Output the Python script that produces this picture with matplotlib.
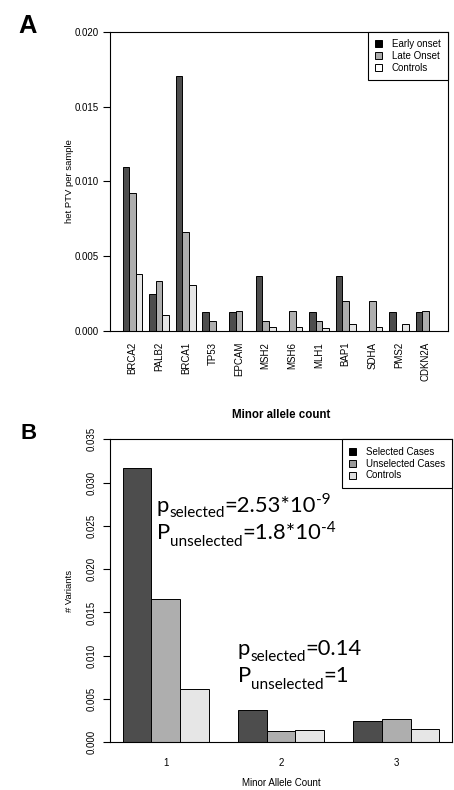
import matplotlib
matplotlib.use('Agg')
import matplotlib.pyplot as plt
import numpy as np
from matplotlib.patches import Patch

# ---------------- data ----------------
genes = ['BRCA2', 'PALB2', 'BRCA1', 'TP53', 'EPCAM', 'MSH2', 'MSH6', 'MLH1',
         'BAP1', 'SDHA', 'PMS2', 'CDKN2A']
early_onset = [0.01098, 0.00244, 0.01705, 0.00123, 0.00123, 0.00366, 0.0,
               0.00123, 0.00366, 0.0, 0.00123, 0.00123]
late_onset = [0.00924, 0.00331, 0.00663, 0.00067, 0.00132, 0.00067, 0.00132,
              0.00067, 0.00199, 0.00199, 0.0, 0.00132]
controls_a = [0.00378, 0.00103, 0.00304, 0.0, 0.0, 0.00027, 0.00027,
              0.00016, 0.00043, 0.00027, 0.00043, 0.0]
legend_a = ['Early onset', 'Late Onset', 'Controls']

mac_groups = ['1', '2', '3']
selected = [0.03165, 0.00370, 0.00246]
unselected = [0.01652, 0.00134, 0.00266]
controls_b = [0.00619, 0.00139, 0.00154]
legend_b = ['Selected Cases', 'Unselected Cases', 'Controls']

# ---------------- style ----------------
plt.rcParams['font.family'] = ['Liberation Sans', 'DejaVu Sans']
W, H = 454, 790
fig = plt.figure(figsize=(W / 100, H / 100), dpi=100)

bar_cols = ['#4D4D4D', '#AEAEAE', '#E6E6E6']


def ax_rect(l, t, r, b):
    return [l / W, 1 - b / H, (r - l) / W, (b - t) / H]


def grouped(ax, series):
    n = len(series[0])
    k = len(series)
    for j, s in enumerate(series):
        x = np.arange(n) * (k + 1) + 1.5 + j
        ax.bar(x, s, width=1.0, color=bar_cols[j], edgecolor='black',
               linewidth=0.7, zorder=2)
    centers = np.arange(n) * (k + 1) + 1 + k / 2
    lo, hi = 1, n * (k + 1)
    pad = 0.04 * (hi - lo)
    ax.set_xlim(lo - pad, hi + pad)
    return centers


for_spines = 0.8

# ---------------- Panel A ----------------
axA = fig.add_axes(ax_rect(110, 32, 448, 330.7))
cA = grouped(axA, [early_onset, late_onset, controls_a])
axA.set_ylim(0, 0.020)
axA.set_yticks(np.arange(0, 0.0201, 0.005))
axA.set_yticklabels([f'{v:.3f}' for v in np.arange(0, 0.0201, 0.005)])
axA.set_xticks(cA)
axA.set_xticklabels(genes, rotation=90)
axA.tick_params(axis='x', length=0, pad=8, labelsize=7)
axA.tick_params(axis='y', length=5, width=0.8, pad=3.3, labelsize=7)
for sp in axA.spines.values():
    sp.set_linewidth(for_spines)
hA = [Patch(facecolor=c, edgecolor='black', linewidth=0.7)
      for c in ['black', '#AAAAAA', 'white']]
legA = axA.legend(hA, legend_a, loc='upper right', bbox_to_anchor=(1, 1),
                  borderaxespad=0, fancybox=False, framealpha=1,
                  edgecolor='black', fontsize=7, handlelength=0.72,
                  handleheight=0.72, handletextpad=1.0, labelspacing=0.2,
                  borderpad=0.75)
legA.get_frame().set_linewidth(0.8)
fig.text(69 / W, 1 - 181 / H, 'het PTV per sample', rotation=90,
         ha='center', va='center', fontsize=6.8)

# ---------------- Panel B ----------------
axB = fig.add_axes(ax_rect(110, 439.3, 452, 742.3))
cB = grouped(axB, [selected, unselected, controls_b])
axB.set_ylim(0, 0.035)
yt = np.arange(0, 0.0351, 0.005)
axB.set_yticks(yt)
axB.set_yticklabels([f'{v:.3f}' for v in yt], rotation=90, va='center')
axB.set_xticks(cB)
axB.set_xticklabels(mac_groups)
axB.tick_params(axis='x', length=0, pad=11, labelsize=7)
axB.tick_params(axis='y', length=5, width=0.8, pad=4.5, labelsize=7)
for sp in axB.spines.values():
    sp.set_linewidth(for_spines)
hB = [Patch(facecolor=c, edgecolor='black', linewidth=0.7)
      for c in ['black', '#999999', '#DDDDDD']]
legB = axB.legend(hB, legend_b, loc='upper right', bbox_to_anchor=(1, 1),
                  borderaxespad=0, fancybox=False, framealpha=1,
                  edgecolor='black', fontsize=7, handlelength=0.72,
                  handleheight=0.72, handletextpad=1.0, labelspacing=0.2,
                  borderpad=0.75)
legB.get_frame().set_linewidth(0.8)
fig.text(281 / W, 1 - 415 / H, 'Minor allele count', ha='center',
         va='center', fontsize=8.3, fontweight='bold')
fig.text(281 / W, 1 - 783 / H, 'Minor Allele Count', ha='center',
         va='center', fontsize=7)
fig.text(69 / W, 1 - 590.7 / H, '# Variants', rotation=90, ha='center',
         va='center', fontsize=6.8)

# panel letters
fig.text(18 / W, 1 - 33.3 / H, 'A', fontsize=18.4, fontweight='bold',
         ha='left', va='baseline')
fig.text(20 / W, 1 - 439 / H, 'B', fontsize=16, fontweight='bold',
         ha='left', va='baseline')

# ---------------- rich annotations ----------------
renderer = fig.canvas.get_renderer()
BIG, SMALL = 15.8, 11.0


def rich(x_px, base_px, parts):
    x = x_px
    for s, size, dy in parts:
        t = fig.text(x / W, 1 - (base_px + dy) / H, s, fontsize=size,
                     family=['Lato', 'DejaVu Sans'], ha='left', va='baseline')
        bb = t.get_window_extent(renderer)
        x = bb.x1


rich(156.7, 511.7, [('p', BIG, 0), ('selected', SMALL, 5.0),
                    ('=2.53*10', BIG, 0), ('-9', SMALL, -7.5)])
rich(156.7, 539.3, [('P', BIG, 0), ('unselected', SMALL, 6.4),
                    ('=1.8*10', BIG, 0), ('-4', SMALL, -6.8)])
rich(237.7, 655, [('p', BIG, 0), ('selected', SMALL, 6.0),
                  ('=0.14', BIG, 0)])
rich(237.7, 682.3, [('P', BIG, 0), ('unselected', SMALL, 6.7),
                    ('=1', BIG, 0)])

fig.savefig('out.png', dpi=100)
